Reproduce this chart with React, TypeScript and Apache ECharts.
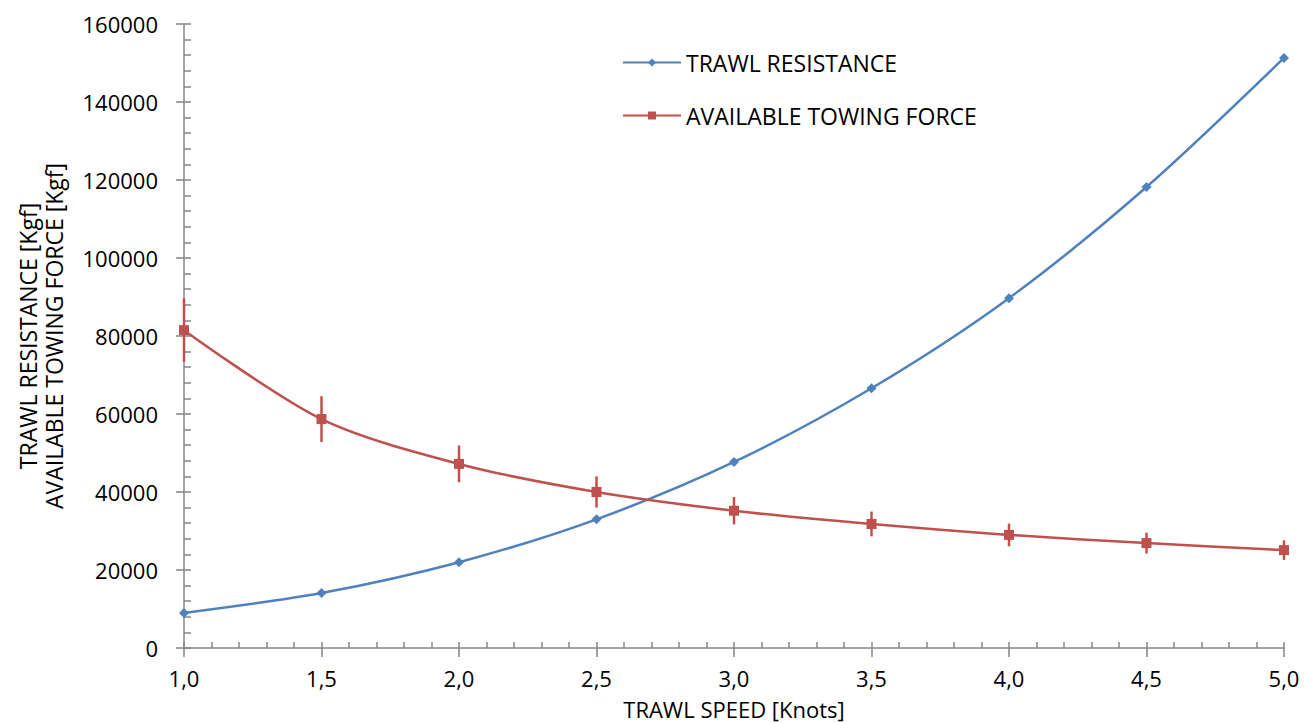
import React, { useEffect, useRef } from "react";
import * as echarts from "echarts";

const speeds = [1.0, 1.5, 2.0, 2.5, 3.0, 3.5, 4.0, 4.5, 5.0];
const trawlResistance = [9000, 14100, 22000, 33000, 47700, 66600, 89700, 118200, 151300];
const towingForce = [81500, 58700, 47200, 40000, 35200, 31800, 29000, 26900, 25100];
const towingForceError = [8150, 5870, 4720, 4000, 3520, 3180, 2900, 2690, 2510];

const seriesNames = ["TRAWL RESISTANCE", "AVAILABLE TOWING FORCE"];
const xAxisName = "TRAWL SPEED [Knots]";
const yAxisName = "TRAWL RESISTANCE [Kgf]\nAVAILABLE TOWING FORCE [Kgf]";

const BLUE = "#4F81BD";
const RED = "#C0504D";
const AXIS = "#868686";
const FONT = "Open Sans";

export default function App() {
  const ref = useRef<HTMLDivElement>(null);
  useEffect(() => {
    if (!ref.current) return;
    const chart = echarts.init(ref.current, undefined, { renderer: "svg" });
    const fmtX = (v: number) => v.toFixed(1).replace(".", ",");
    const fmtY = (v: number) => String(v);
    const errData = speeds.map((x, i) => [x, towingForce[i] - towingForceError[i], towingForce[i] + towingForceError[i]]);
    chart.setOption({
      animation: false,
      textStyle: { fontFamily: FONT },
      grid: { left: 184, right: 21, top: 24, bottom: 75, outerBoundsMode: "none", containLabel: false },
      legend: {
        orient: "vertical",
        left: 622,
        top: 51,
        padding: 0,
        itemGap: 30,
        itemWidth: 58,
        itemHeight: 10,
        data: seriesNames,
        textStyle: { fontFamily: FONT, fontSize: 23, color: "#000" },
      },
      xAxis: [
        {
          type: "value",
          min: 1,
          max: 5,
          interval: 0.5,
          name: xAxisName,
          nameLocation: "middle",
          nameGap: 50,
          nameTextStyle: { fontFamily: FONT, fontSize: 22, color: "#000" },
          axisLine: { show: true, lineStyle: { color: AXIS, width: 1.5 } },
          axisTick: { show: true, inside: true, length: 6, lineStyle: { color: AXIS, width: 1.5 } },
          minorTick: { show: true, splitNumber: 5, length: 6, lineStyle: { color: AXIS, width: 1.5 } },
          splitLine: { show: false },
          axisLabel: { formatter: fmtX, fontFamily: FONT, fontSize: 22, color: "#000", margin: 19 },
        },
        {
          type: "value",
          min: 1,
          max: 5,
          interval: 0.5,
          position: "bottom",
          axisLine: { show: false },
          axisTick: { show: true, inside: false, length: 9, lineStyle: { color: AXIS, width: 1.5 } },
          splitLine: { show: false },
          axisLabel: { show: false },
        },
      ],
      yAxis: [
        {
          type: "value",
          min: 0,
          max: 160000,
          interval: 20000,
          name: yAxisName,
          nameLocation: "middle",
          nameGap: 117,
          nameRotate: 90,
          nameTextStyle: { fontFamily: FONT, fontSize: 23, color: "#000", lineHeight: 26 },
          axisLine: { show: true, lineStyle: { color: AXIS, width: 1.5 } },
          axisTick: { show: true, inside: true, length: 7, lineStyle: { color: AXIS, width: 1.5 } },
          minorTick: { show: true, splitNumber: 5, length: 7, lineStyle: { color: AXIS, width: 1.5 } },
          splitLine: { show: false },
          axisLabel: { formatter: fmtY, fontFamily: FONT, fontSize: 22, color: "#000", margin: 26 },
        },
        {
          type: "value",
          min: 0,
          max: 160000,
          interval: 20000,
          position: "left",
          axisLine: { show: false },
          axisTick: { show: true, inside: false, length: 8, lineStyle: { color: AXIS, width: 1.5 } },
          splitLine: { show: false },
          axisLabel: { show: false },
        },
      ],
      series: [
        {
          type: "custom",
          name: "err",
          xAxisIndex: 0,
          yAxisIndex: 0,
          data: errData,
          z: 1,
          renderItem: (params: any, api: any) => {
            const x = api.value(0);
            const p1 = api.coord([x, api.value(1)]);
            const p2 = api.coord([x, api.value(2)]);
            return {
              type: "line",
              shape: { x1: p1[0], y1: p1[1], x2: p2[0], y2: p2[1] },
              style: { stroke: RED, lineWidth: 2.5 },
            };
          },
        },
        {
          type: "line",
          name: seriesNames[0],
          data: speeds.map((x, i) => [x, trawlResistance[i]]),
          smooth: 0.3,
          symbol: "diamond",
          symbolSize: 10,
          itemStyle: { color: BLUE },
          lineStyle: { color: BLUE, width: 2.5 },
          z: 3,
        },
        {
          type: "line",
          name: seriesNames[1],
          data: speeds.map((x, i) => [x, towingForce[i]]),
          smooth: 0.3,
          symbol: "rect",
          symbolSize: 10,
          itemStyle: { color: RED },
          lineStyle: { color: RED, width: 2.5 },
          z: 3,
        },
      ],
    });
    return () => chart.dispose();
  }, []);
  return (
    <div
      ref={ref}
      style={{ position: "fixed", left: 0, top: 0, width: 1305, height: 723, background: "#fff" }}
    />
  );
}
